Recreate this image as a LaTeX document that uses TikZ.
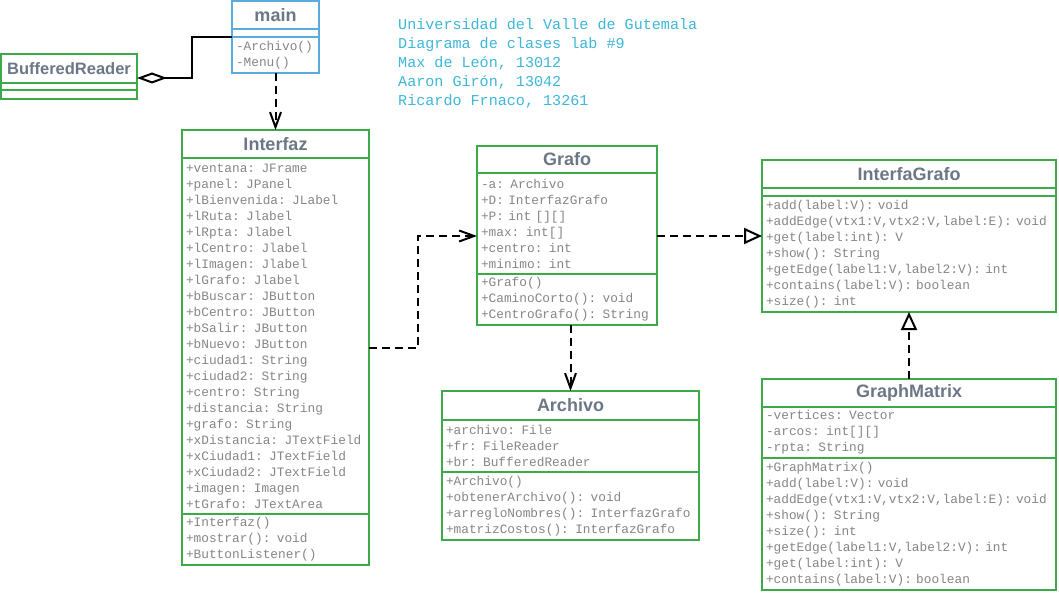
\documentclass[tikz,border=0pt]{standalone}
\usepackage{fontspec}
\setmainfont{Liberation Sans}
\setmonofont{Liberation Mono}
\usepackage{tikz}
\usetikzlibrary{arrows.meta, positioning, calc}
\definecolor{UmlGreen}{HTML}{3DAA4A}
\definecolor{MainBlue}{HTML}{5AAADC}
\definecolor{TitleGray}{HTML}{6B7786}
\definecolor{BodyGray}{HTML}{858585}
\definecolor{HeadCyan}{HTML}{3DB6D9}
\tikzset{
  titlebox/.style={rectangle, draw=UmlGreen, line width=1.8pt, outer sep=0pt, inner sep=0pt, minimum height=28pt, font=\fontsize{18}{21}\selectfont\bfseries, text=TitleGray, align=center},
  bodybox/.style={rectangle, draw=UmlGreen, line width=1.8pt, outer sep=0pt, inner xsep=4pt, inner ysep=2pt, align=left, font=\fontsize{12.8}{16}\selectfont\ttfamily, text=BodyGray},
  headtext/.style={inner sep=0pt, align=left, font=\fontsize{15.1}{19}\selectfont\ttfamily, text=HeadCyan},
  deparrow/.style={draw=black, line width=2pt, dash pattern=on 8pt off 5pt, -{Straight Barb[length=15pt,width=11pt]}},
  realarrow/.style={draw=black, line width=2pt, dash pattern=on 8pt off 5pt, -{Triangle[open,length=18pt,width=16pt,fill=white]}},
  aggline/.style={draw=black, line width=2pt, -{Diamond[open,length=30pt,width=11pt,fill=white]}}
}
\begin{document}
\begin{tikzpicture}[x=1pt, y=-1pt]
  \useasboundingbox (0,0) rectangle (1059,593);

  % header
  \node[headtext, anchor=north west] (head) at (398,18) {Universidad del Valle de Gutemala\\Diagrama de clases lab \#9\\Max de León, 13012\\Aaron Girón, 13042\\Ricardo Frnaco, 13261};

  % main
  \node[titlebox, draw=MainBlue, minimum width=87pt, anchor=north west] (mainT) at (232,1) {main};
  \node[bodybox, draw=MainBlue, minimum width=87pt, text width=79pt, minimum height=8pt, below=0pt of mainT] (mainA) {};
  \node[bodybox, draw=MainBlue, minimum width=87pt, text width=79pt, minimum height=36pt, below=0pt of mainA] (mainM) {-Archivo()\\-Menu()};

  % BufferedReader
  \node[titlebox, minimum width=136pt, minimum height=29pt, font=\fontsize{16.5}{20}\selectfont\bfseries, anchor=north west] (brT) at (1,54) {BufferedReader};
  \node[bodybox, minimum width=136pt, text width=128pt, minimum height=7pt, below=0pt of brT] (brA) {};
  \node[bodybox, minimum width=136pt, text width=128pt, minimum height=9pt, below=0pt of brA] (brM) {};

  % Interfaz
  \node[titlebox, minimum width=187pt, anchor=north west] (intT) at (182,130) {Interfaz};
  \node[bodybox, minimum width=187pt, text width=179pt, minimum height=356pt, below=0pt of intT] (intA) {+ventana: JFrame\\+panel: JPanel\\+lBienvenida: JLabel\\+lRuta: Jlabel\\+lRpta: Jlabel\\+lCentro: Jlabel\\+lImagen: Jlabel\\+lGrafo: Jlabel\\+bBuscar: JButton\\+bCentro: JButton\\+bSalir: JButton\\+bNuevo: JButton\\+ciudad1: String\\+ciudad2: String\\+centro: String\\+distancia: String\\+grafo: String\\+xDistancia: JTextField\\+xCiudad1: JTextField\\+xCiudad2: JTextField\\+imagen: Imagen\\+tGrafo: JTextArea};
  \node[bodybox, minimum width=187pt, text width=179pt, minimum height=51pt, below=0pt of intA] (intM) {+Interfaz()\\+mostrar(): void\\+ButtonListener()};

  % Grafo
  \node[titlebox, minimum width=180pt, minimum height=27pt, anchor=north west] (grT) at (477,146) {Grafo};
  \node[bodybox, minimum width=180pt, text width=172pt, minimum height=101pt, below=0pt of grT] (grA) {-a: Archivo\\+D: InterfazGrafo\\+P: int [][]\\+max: int[]\\+centro: int\\+minimo: int};
  \node[bodybox, minimum width=180pt, text width=172pt, minimum height=51pt, below=0pt of grA] (grM) {+Grafo()\\+CaminoCorto(): void\\+CentroGrafo(): String};

  % Archivo
  \node[titlebox, minimum width=257pt, minimum height=29pt, anchor=north west] (arT) at (442,391) {Archivo};
  \node[bodybox, minimum width=257pt, text width=249pt, minimum height=52pt, below=0pt of arT] (arA) {+archivo: File\\+fr: FileReader\\+br: BufferedReader};
  \node[bodybox, minimum width=257pt, text width=249pt, minimum height=68pt, below=0pt of arA] (arM) {+Archivo()\\+obtenerArchivo(): void\\+arregloNombres(): InterfazGrafo\\+matrizCostos(): InterfazGrafo};

  % InterfaGrafo
  \node[titlebox, minimum width=294pt, anchor=north west] (igT) at (762,160) {InterfaGrafo};
  \node[bodybox, minimum width=294pt, text width=286pt, minimum height=8pt, below=0pt of igT] (igA) {};
  \node[bodybox, minimum width=294pt, text width=286pt, minimum height=116pt, below=0pt of igA] (igM) {+add(label:V): void\\+addEdge(vtx1:V,vtx2:V,label:E): void\\+get(label:int): V\\+show(): String\\+getEdge(label1:V,label2:V): int\\+contains(label:V): boolean\\+size(): int};

  % GraphMatrix
  \node[titlebox, minimum width=294pt, anchor=north west] (gmT) at (762,379) {GraphMatrix};
  \node[bodybox, minimum width=294pt, text width=286pt, minimum height=51pt, below=0pt of gmT] (gmA) {-vertices: Vector\\-arcos: int[][]\\-rpta: String};
  \node[bodybox, minimum width=294pt, text width=286pt, minimum height=132pt, below=0pt of gmA] (gmM) {+GraphMatrix()\\+add(label:V): void\\+addEdge(vtx1:V,vtx2:V,label:E): void\\+show(): String\\+size(): int\\+getEdge(label1:V,label2:V): int\\+get(label:int): V\\+contains(label:V): boolean};

  % connectors
  \draw[aggline] (mainM.north west) -- ++(-40,0) |- ([yshift=5pt]brT.south east);
  \draw[deparrow] (mainM.south) -- (mainM.south |- intT.north);
  \draw[deparrow] ([yshift=-12pt]intA.east) -- ++(49,0) |- ([yshift=-12.5pt]grA.west);
  \draw[realarrow] ([yshift=-12.5pt]grA.east) -- ([yshift=-12.5pt]grA.east -| igM.west);
  \draw[deparrow] (arT.north |- grM.south) -- (arT.north);
  \draw[realarrow] (gmT.north) -- (igM.south);
\end{tikzpicture}
\end{document}
